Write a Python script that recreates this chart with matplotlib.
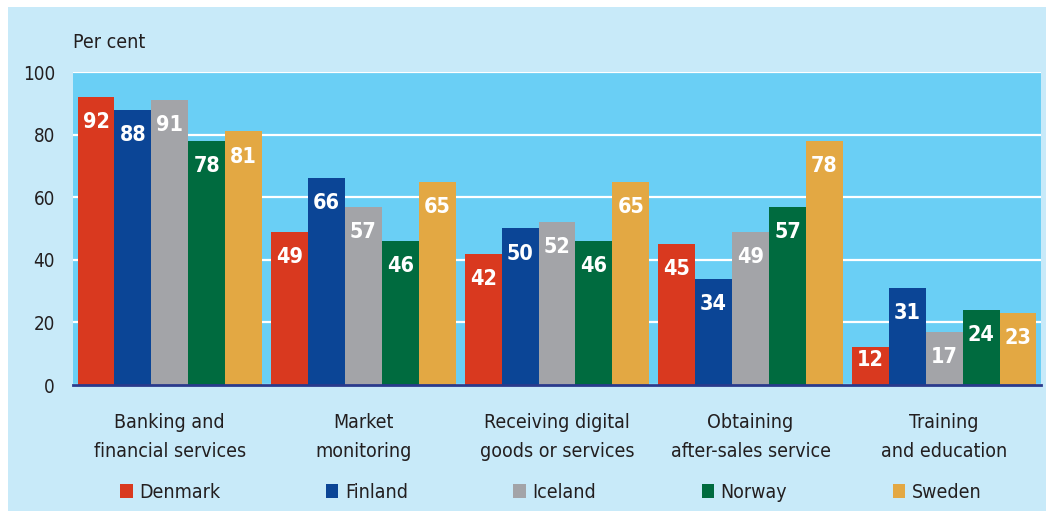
import numpy as np
import matplotlib
matplotlib.use('Agg')
import matplotlib.pyplot as plt
from matplotlib.patches import Rectangle, Patch

plt.rcParams['font.family'] = ['DejaVu Sans']
plt.rcParams['font.stretch'] = 'condensed'

categories = ['Banking and\nfinancial services', 'Market\nmonitoring',
              'Receiving digital\ngoods or services', 'Obtaining\nafter-sales service',
              'Training\nand education']
countries = ['Denmark', 'Finland', 'Iceland', 'Norway', 'Sweden']
denmark = [92, 49, 42, 45, 12]
finland = [88, 66, 50, 34, 31]
iceland = [91, 57, 52, 49, 17]
norway = [78, 46, 46, 57, 24]
sweden = [81, 65, 65, 78, 23]
series = [denmark, finland, iceland, norway, sweden]
colors = ['#D9391F', '#0B4596', '#A3A4A8', '#006B3F', '#E3A843']

txt = '#231F20'
fig = plt.figure(figsize=(10.53, 5.11), dpi=100)
fig.patch.set_facecolor('white')
# light blue panel behind everything
fig.patches.append(Rectangle((8 / 1053, 0), 1038 / 1053, 1 - 7 / 511,
                             transform=fig.transFigure, facecolor='#C8EAF9',
                             edgecolor='none', zorder=-5))

ax = fig.add_axes([73 / 1053, 1 - 385 / 511, 968 / 1053, 313 / 511])
ax.set_facecolor('#6ACFF5')

x = np.arange(len(categories))
w = 0.1907
for i, (vals, c) in enumerate(zip(series, colors)):
    xs = x + (i - 2) * w
    ax.bar(xs, vals, width=w, color=c, edgecolor='none', zorder=3, label=countries[i])
    for xi, v in zip(xs, vals):
        ax.text(xi, max(v - 8, 8), str(v), ha='center', va='center', color='white',
                fontsize=15.5, fontweight='bold', zorder=4)

ax.set_xlim(-0.5, len(categories) - 0.5)
ax.set_ylim(0, 100)
ax.set_yticks([0, 20, 40, 60, 80, 100])
ax.yaxis.grid(True, color='white', linewidth=1.6, zorder=1)
ax.set_axisbelow(True)
for s in ['top', 'right', 'left']:
    ax.spines[s].set_visible(False)
ax.spines['bottom'].set_color('#2A3A8C')
ax.spines['bottom'].set_linewidth(2)
ax.spines['bottom'].set_zorder(5)
ax.tick_params(axis='y', length=0, pad=13, labelsize=13.5, labelcolor=txt)
ax.set_xticks(x)
ax.set_xticklabels(categories, fontsize=14, color=txt, linespacing=1.68)
ax.tick_params(axis='x', length=0, pad=20)

fig.text(73 / 1053, 1 - 42 / 511, 'Per cent', fontsize=14, color=txt, va='center', ha='left')

handles = [Patch(facecolor=c, edgecolor='none') for c in colors]
leg = fig.legend(handles, countries, loc='center', bbox_to_anchor=(551 / 1053, 1 - 492 / 511),
                 ncol=5, frameon=False, fontsize=14, handlelength=0.62, handleheight=0.75,
                 handletextpad=0.36, columnspacing=5.42)
for t in leg.get_texts():
    t.set_color(txt)

fig.savefig('out.png', dpi=100)
